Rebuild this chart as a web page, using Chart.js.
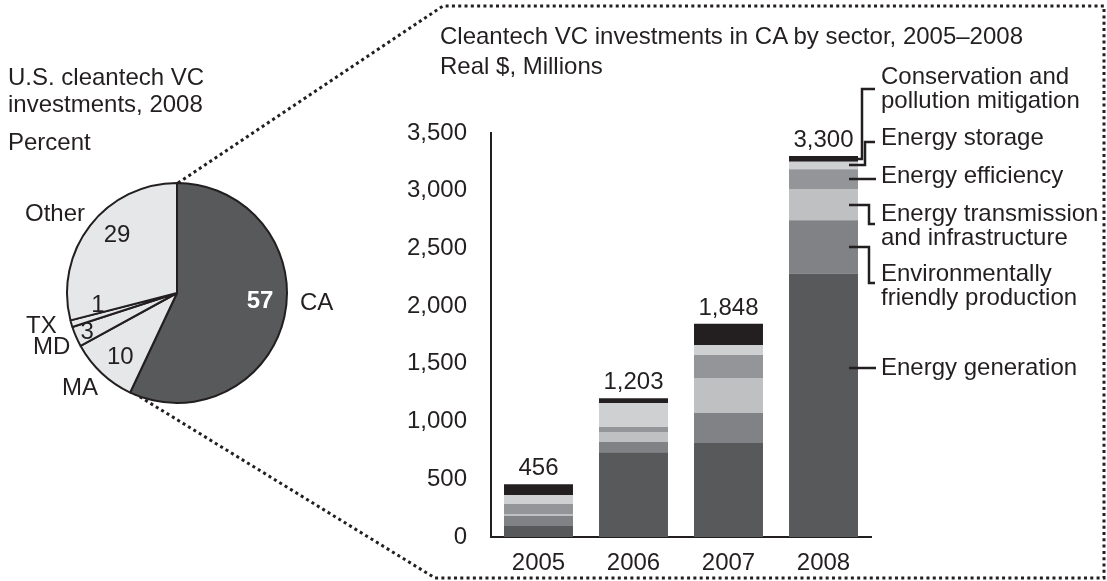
<!DOCTYPE html>
<html>
<head>
<meta charset="utf-8">
<script src="https://cdn.jsdelivr.net/npm/chart.js@4.4.1/dist/chart.umd.min.js"></script>
<style>
  body { margin: 0; background: #fff; }
  #wrap { position: relative; width: 1107px; height: 581px; overflow: hidden;
          font-family: 'Liberation Sans', Arial, sans-serif; font-size: 24px; color: #231f20; }
  .t { position: absolute; white-space: nowrap; line-height: 24px; }
  canvas { position: absolute; }
</style>
</head>
<body>
<div id="wrap">
  <canvas id="bars" width="1107" height="581" style="left:0;top:0;width:1107px;height:581px"></canvas>
  <canvas id="pie" width="226" height="226" style="left:64px;top:180px;width:226px;height:226px"></canvas>

  <div class="t" style="left:8px;top:64px;line-height:26.5px">U.S. cleantech VC<br>investments, 2008</div>
  <div class="t" style="left:8px;top:130px">Percent</div>

  <div class="t" style="left:440px;top:21px;line-height:30px">Cleantech VC investments in CA by sector, 2005–2008<br>Real $, Millions</div>

  <div class="t" style="left:25px;top:201px">Other</div>
  <div class="t" style="left:300px;top:290px">CA</div>
  <div class="t" style="left:26px;top:313px">TX</div>
  <div class="t" style="left:33px;top:334px">MD</div>
  <div class="t" style="left:62px;top:375px">MA</div>

  <div class="t" style="left:881px;top:64px">Conservation and<br>pollution mitigation</div>
  <div class="t" style="left:881px;top:125px">Energy storage</div>
  <div class="t" style="left:881px;top:163px">Energy efficiency</div>
  <div class="t" style="left:881px;top:201px">Energy transmission<br>and infrastructure</div>
  <div class="t" style="left:881px;top:261px">Environmentally<br>friendly production</div>
  <div class="t" style="left:881px;top:355px">Energy generation</div>
</div>

<script>
// ── data ─────────────────────────────────────────────
const years = ['2005', '2006', '2007', '2008'];

const generation   = [95, 735, 814, 2283];
const envFriendly  = [87, 87, 260, 462];
const transmission = [17, 87, 303, 269];
const efficiency   = [87, 43, 199, 173];
const storage      = [78, 208, 87, 64];
const conservation = [92, 43, 185, 49];
const totals       = [456, 1203, 1848, 3300];

const yTicks = [0, 500, 1000, 1500, 2000, 2500, 3000, 3500];

const states = ['CA', 'MA', 'MD', 'TX', 'Other'];
const shares = [57, 10, 3, 1, 29];

// ── styling ──────────────────────────────────────────
const INK = '#231f20';
const FONT = { family: "'Liberation Sans', Arial, sans-serif", size: 24 };

function el(id) { return document.getElementById(id); }

const sectors = [
  { label: 'Energy generation',                  data: generation,   color: '#58595b' },
  { label: 'Environmentally friendly production', data: envFriendly,  color: '#808285' },
  { label: 'Energy transmission and infrastructure', data: transmission, color: '#bfc0c2' },
  { label: 'Energy efficiency',                  data: efficiency,   color: '#939598' },
  { label: 'Energy storage',                     data: storage,      color: '#cfd0d2' },
  { label: 'Conservation and pollution mitigation', data: conservation, color: INK }
];

// connector shapes for 2008 bar: anchor fraction within segment, elbow x, end y (label side)
const connectors = [
  { ds: 0, frac: 0.64, elbowX: null, endY: null },
  { ds: 1, frac: 0.5,  elbowX: 869, endY: 283 },
  { ds: 2, frac: 0.5,  elbowX: 869, endY: 224 },
  { ds: 3, frac: 0.5,  elbowX: null, endY: null },
  { ds: 4, frac: 0.5,  elbowX: 865, endY: 142 },
  { ds: 5, frac: 0.5,  elbowX: 862, endY: 89 }
];

function dotted(ctx, pts) {
  ctx.save();
  ctx.strokeStyle = INK;
  ctx.lineWidth = 3;
  ctx.setLineDash([3, 3.3]);
  ctx.beginPath();
  ctx.moveTo(pts[0][0], pts[0][1]);
  pts.slice(1).forEach(p => ctx.lineTo(p[0], p[1]));
  ctx.stroke();
  ctx.restore();
}

const overlay = {
  id: 'overlay',
  afterDraw(chart) {
    const ctx = chart.ctx;
    const y = chart.scales.y;

    // zoom frame from the pie to the bar panel
    dotted(ctx, [[178, 183], [443, 6], [1104, 6], [1104, 578], [435, 578], [132, 392]]);

    // totals above the bars
    const top = chart.getDatasetMeta(sectors.length - 1);
    ctx.save();
    ctx.fillStyle = INK;
    ctx.font = `${FONT.size}px ${FONT.family}`;
    ctx.textAlign = 'center';
    ctx.textBaseline = 'alphabetic';
    top.data.forEach((bar, i) => {
      ctx.fillText(totals[i].toLocaleString('en-US'), bar.x, bar.y - 9);
    });
    ctx.restore();

    // leader lines from the 2008 bar to the sector labels
    const last = years.length - 1;
    const bar = chart.getDatasetMeta(0).data[last];
    const x0 = bar.x + bar.width / 2 - 9;
    ctx.save();
    ctx.strokeStyle = INK;
    ctx.lineWidth = 2.5;
    ctx.lineJoin = 'miter';
    connectors.forEach(c => {
      let base = 0;
      for (let k = 0; k < c.ds; k++) base += sectors[k].data[last];
      const v = base + sectors[c.ds].data[last] * c.frac;
      const ya = Math.round(y.getPixelForValue(v));
      ctx.beginPath();
      ctx.moveTo(x0, ya);
      if (c.elbowX === null) {
        ctx.lineTo(876, ya);
      } else {
        ctx.lineTo(c.elbowX, ya);
        ctx.lineTo(c.elbowX, c.endY);
        ctx.lineTo(875, c.endY);
      }
      ctx.stroke();
    });
    ctx.restore();
  }
};

new Chart(el('bars'), {
  type: 'bar',
  data: {
    labels: years,
    datasets: sectors.map(s => ({
      label: s.label,
      data: s.data,
      backgroundColor: s.color,
      borderWidth: 0,
      categoryPercentage: 1,
      barPercentage: 0.726
    }))
  },
  options: {
    responsive: false,
    animation: false,
    layout: { padding: { left: 381, right: 236, top: 133, bottom: 4 } },
    plugins: { legend: { display: false }, tooltip: { enabled: false } },
    scales: {
      x: {
        stacked: true,
        grid: { display: false, drawTicks: false },
        border: { color: INK, width: 2 },
        ticks: { font: FONT, color: INK, padding: 12 },
        afterFit: s => { s.height = 40; }
      },
      y: {
        stacked: true,
        min: 0,
        max: 3500,
        afterBuildTicks: s => { s.ticks = yTicks.map(v => ({ value: v })); },
        grid: { display: false, drawTicks: false },
        border: { color: INK, width: 2 },
        ticks: { font: FONT, color: INK, padding: 24, callback: v => v.toLocaleString('en-US') },
        afterFit: s => { s.width = 110; }
      }
    }
  },
  plugins: [overlay]
});

// ── pie: share of U.S. cleantech VC ─────────────────
const labelRadius = [83.5, 86, 98, 80, 83];
const labelShift  = [-6.6, -2, 0, 7.6, 6];   // degrees

const pieNumbers = {
  id: 'pieNumbers',
  afterDatasetsDraw(chart) {
    const ctx = chart.ctx;
    const arcs = chart.getDatasetMeta(0).data;
    ctx.save();
    ctx.textAlign = 'center';
    ctx.textBaseline = 'middle';
    arcs.forEach((a, i) => {
      const mid = (a.startAngle + a.endAngle) / 2 + labelShift[i] * Math.PI / 180;
      const px = a.x + Math.cos(mid) * labelRadius[i];
      const py = a.y + Math.sin(mid) * labelRadius[i];
      ctx.fillStyle = i === 0 ? '#ffffff' : INK;
      ctx.font = `${i === 0 ? 'bold ' : ''}${FONT.size}px ${FONT.family}`;
      ctx.fillText(String(shares[i]), px, py);
    });
    ctx.restore();
  }
};

new Chart(el('pie'), {
  type: 'pie',
  data: {
    labels: states,
    datasets: [{
      data: shares,
      backgroundColor: ['#58595b', '#e6e7e8', '#e6e7e8', '#e6e7e8', '#e6e7e8'],
      borderColor: INK,
      borderWidth: 2
    }]
  },
  options: {
    responsive: false,
    animation: false,
    layout: { padding: 2 },
    plugins: { legend: { display: false }, tooltip: { enabled: false } }
  },
  plugins: [pieNumbers]
});
</script>
</body>
</html>
